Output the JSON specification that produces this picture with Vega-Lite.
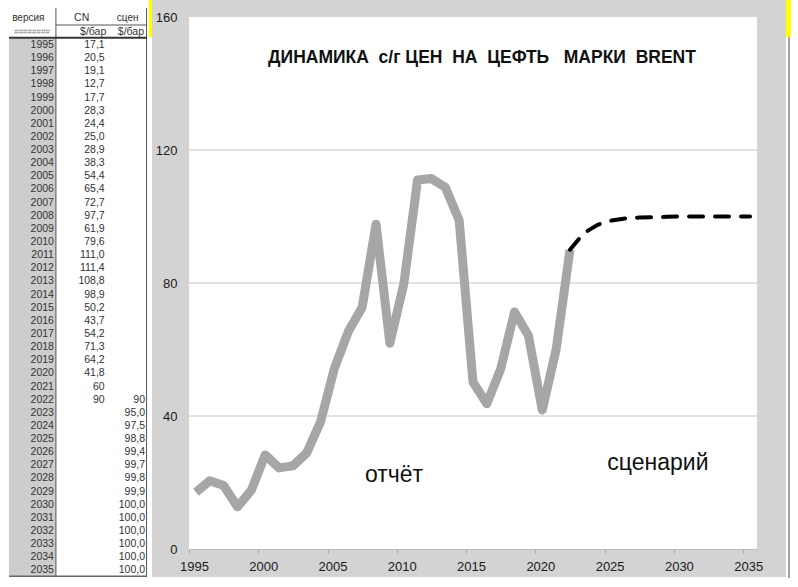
{
  "$schema": "https://vega.github.io/schema/vega-lite/v6.json",
  "padding": {"left": 8, "top": 0, "right": 0, "bottom": 0},
  "background": "white",
  "spacing": 0,
  "config": {
    "view": {"stroke": null},
    "font": "Liberation Sans",
    "locale": {"number": {"decimal": ",", "thousands": " ", "grouping": [3], "currency": ["", ""]}}
  },
  "datasets": {
    "d": [
      {"year": 1995, "cn": 17.1, "scen": null},
      {"year": 1996, "cn": 20.5, "scen": null},
      {"year": 1997, "cn": 19.1, "scen": null},
      {"year": 1998, "cn": 12.7, "scen": null},
      {"year": 1999, "cn": 17.7, "scen": null},
      {"year": 2000, "cn": 28.3, "scen": null},
      {"year": 2001, "cn": 24.4, "scen": null},
      {"year": 2002, "cn": 25.0, "scen": null},
      {"year": 2003, "cn": 28.9, "scen": null},
      {"year": 2004, "cn": 38.3, "scen": null},
      {"year": 2005, "cn": 54.4, "scen": null},
      {"year": 2006, "cn": 65.4, "scen": null},
      {"year": 2007, "cn": 72.7, "scen": null},
      {"year": 2008, "cn": 97.7, "scen": null},
      {"year": 2009, "cn": 61.9, "scen": null},
      {"year": 2010, "cn": 79.6, "scen": null},
      {"year": 2011, "cn": 111.0, "scen": null},
      {"year": 2012, "cn": 111.4, "scen": null},
      {"year": 2013, "cn": 108.8, "scen": null},
      {"year": 2014, "cn": 98.9, "scen": null},
      {"year": 2015, "cn": 50.2, "scen": null},
      {"year": 2016, "cn": 43.7, "scen": null},
      {"year": 2017, "cn": 54.2, "scen": null},
      {"year": 2018, "cn": 71.3, "scen": null},
      {"year": 2019, "cn": 64.2, "scen": null},
      {"year": 2020, "cn": 41.8, "scen": null},
      {"year": 2021, "cn": 60, "scen": null},
      {"year": 2022, "cn": 90, "scen": 90},
      {"year": 2023, "cn": null, "scen": 95.0},
      {"year": 2024, "cn": null, "scen": 97.5},
      {"year": 2025, "cn": null, "scen": 98.8},
      {"year": 2026, "cn": null, "scen": 99.4},
      {"year": 2027, "cn": null, "scen": 99.7},
      {"year": 2028, "cn": null, "scen": 99.8},
      {"year": 2029, "cn": null, "scen": 99.9},
      {"year": 2030, "cn": null, "scen": 100.0},
      {"year": 2031, "cn": null, "scen": 100.0},
      {"year": 2032, "cn": null, "scen": 100.0},
      {"year": 2033, "cn": null, "scen": 100.0},
      {"year": 2034, "cn": null, "scen": 100.0},
      {"year": 2035, "cn": null, "scen": 100.0}
    ],
    "one": [{}],
    "grid": [{"g": 40}, {"g": 80}, {"g": 120}]
  },
  "hconcat": [
    {
      "width": 138,
      "height": 560,
      "layer": [
        {
          "data": {"name": "one"},
          "mark": {"type": "rect", "color": "#cdcdcd"},
          "encoding": {
            "x": {"datum": 0, "type": "quantitative", "scale": {"domain": [0, 3], "nice": false, "zero": false}, "axis": null},
            "x2": {"datum": 1.02},
            "y": {"datum": 1994.5, "type": "quantitative", "scale": {"domain": [1992.87, 2035.5], "reverse": true, "nice": false, "zero": false}, "axis": null},
            "y2": {"datum": 2035.5}
          }
        },
        {
          "data": {"name": "one"},
          "mark": {"type": "rule", "color": "#555555", "strokeWidth": 1},
          "encoding": {"x": {"datum": 1.02}, "y": {"datum": 1992.19}, "y2": {"datum": 2035.5}}
        },
        {
          "data": {"name": "one"},
          "mark": {"type": "rule", "color": "#555555", "strokeWidth": 1},
          "encoding": {"x": {"datum": 2.99}, "y": {"datum": 1992.19}, "y2": {"datum": 2035.5}}
        },
        {
          "data": {"name": "one"},
          "mark": {"type": "rule", "color": "#555555", "strokeWidth": 1},
          "encoding": {"y": {"datum": 1993.48}, "x": {"datum": 1.02}, "x2": {"datum": 3}}
        },
        {
          "data": {"name": "one"},
          "mark": {"type": "rule", "color": "#333333", "strokeWidth": 2},
          "encoding": {"y": {"datum": 1994.45}, "x": {"datum": 0}, "x2": {"datum": 3}}
        },
        {
          "data": {"name": "one"},
          "mark": {"type": "rule", "color": "#666666", "strokeWidth": 1.5},
          "encoding": {"y": {"datum": 2035.45}, "x": {"datum": 0}, "x2": {"datum": 3}}
        },
        {
          "data": {"name": "d"},
          "mark": {"type": "text", "align": "right", "baseline": "middle", "dx": -2, "fontSize": 10.5, "color": "#333333"},
          "encoding": {"x": {"datum": 1.02}, "y": {"field": "year", "type": "quantitative"}, "text": {"field": "year", "type": "nominal"}}
        },
        {
          "data": {"name": "d"},
          "transform": [{"filter": "datum.cn != null"}],
          "mark": {"type": "text", "align": "right", "baseline": "middle", "fontSize": 10.5, "color": "#333333"},
          "encoding": {
            "x": {"datum": 2.08},
            "y": {"field": "year", "type": "quantitative"},
            "text": {"condition": {"test": "datum.year >= 2021", "field": "cn", "type": "quantitative", "format": "d"}, "field": "cn", "type": "quantitative", "format": ".1f"}
          }
        },
        {
          "data": {"name": "d"},
          "transform": [{"filter": "datum.scen != null"}],
          "mark": {"type": "text", "align": "right", "baseline": "middle", "dx": -2, "fontSize": 10.5, "color": "#333333"},
          "encoding": {
            "x": {"datum": 3},
            "y": {"field": "year", "type": "quantitative"},
            "text": {"condition": {"test": "datum.year == 2022", "field": "scen", "type": "quantitative", "format": "d"}, "field": "scen", "type": "quantitative", "format": ".1f"}
          }
        },
        {
          "data": {"name": "one"},
          "mark": {"type": "text", "align": "center", "baseline": "middle", "fontSize": 10, "color": "#333333", "text": "версия"},
          "encoding": {"x": {"datum": 0.42}, "y": {"datum": 1992.95}}
        },
        {
          "data": {"name": "one"},
          "mark": {"type": "text", "align": "center", "baseline": "middle", "fontSize": 10.5, "color": "#333333", "text": "CN"},
          "encoding": {"x": {"datum": 1.58}, "y": {"datum": 1992.95}}
        },
        {
          "data": {"name": "one"},
          "mark": {"type": "text", "align": "center", "baseline": "middle", "fontSize": 10, "color": "#333333", "text": "сцен"},
          "encoding": {"x": {"datum": 2.58}, "y": {"datum": 1992.95}}
        },
        {
          "data": {"name": "one"},
          "mark": {"type": "text", "align": "center", "baseline": "middle", "fontSize": 8, "color": "#888888", "text": "########"},
          "encoding": {"x": {"datum": 0.5}, "y": {"datum": 1994.0}}
        },
        {
          "data": {"name": "one"},
          "mark": {"type": "text", "align": "center", "baseline": "middle", "fontSize": 10.5, "color": "#333333", "text": "$/бар"},
          "encoding": {"x": {"datum": 1.83}, "y": {"datum": 1994.0}}
        },
        {
          "data": {"name": "one"},
          "mark": {"type": "text", "align": "center", "baseline": "middle", "fontSize": 10.5, "color": "#333333", "text": "$/бар"},
          "encoding": {"x": {"datum": 2.65}, "y": {"datum": 1994.0}}
        }
      ]
    },
    {
      "width": 568,
      "height": 532,
      "layer": [
        {
          "data": {"name": "one"},
          "mark": {"type": "rect", "color": "#d3d3d3"},
          "encoding": {"x": {"datum": 1991.83}, "x2": {"datum": 2037.59}, "y": {"datum": -8.42}, "y2": {"datum": 165.1}}
        },
        {
          "data": {"name": "one"},
          "mark": {"type": "rect", "color": "#ffff00"},
          "encoding": {"x": {"datum": 1991.6}, "x2": {"datum": 1991.83}, "y": {"datum": 153.98}, "y2": {"datum": 165.1}}
        },
        {
          "data": {"name": "one"},
          "mark": {"type": "rect", "color": "#ffff00"},
          "encoding": {"x": {"datum": 2037.59}, "x2": {"datum": 2037.95}, "y": {"datum": 153.98}, "y2": {"datum": 165.1}}
        },
        {
          "data": {"name": "one"},
          "mark": {"type": "rule", "color": "#444444", "strokeWidth": 1},
          "encoding": {"x": {"datum": 2037.81}, "y": {"datum": 153.98}, "y2": {"datum": -8.72}}
        },
        {
          "data": {"name": "one"},
          "mark": {"type": "rect", "color": "#ffffff"},
          "encoding": {"x": {"datum": 1994.5}, "x2": {"datum": 2035.5}, "y": {"datum": 0}, "y2": {"datum": 160}}
        },
        {
          "data": {"name": "grid"},
          "mark": {"type": "rule", "color": "#c4c4c4", "strokeWidth": 1},
          "encoding": {"y": {"field": "g", "type": "quantitative"}, "x": {"datum": 1994.5}, "x2": {"datum": 2035.5}}
        },
        {
          "data": {"name": "d"},
          "transform": [{"filter": "datum.cn != null"}],
          "mark": {"type": "line", "color": "#a6a6a6", "strokeWidth": 9, "strokeJoin": "round"},
          "encoding": {
            "x": {
              "field": "year", "type": "quantitative",
              "scale": {"domain": [1994.5, 2035.5], "nice": false, "zero": false},
              "axis": {
                "title": null, "zindex": 1, "grid": false,
                "values": [1994.5, 1999.5, 2004.5, 2009.5, 2014.5, 2019.5, 2024.5, 2029.5, 2034.5],
                "labelExpr": "round(datum.value)",
                "labelOffset": 5, "labelFlush": false, "labelOverlap": false,
                "labelFont": "Liberation Sans", "labelFontSize": 13, "labelColor": "#1a1a1a",
                "labelPadding": 7, "tickSize": 4, "tickColor": "#aaaaaa", "domainColor": "#bbbbbb"
              }
            },
            "y": {
              "field": "cn", "type": "quantitative",
              "scale": {"domain": [0, 160], "nice": false, "zero": false},
              "axis": {
                "title": null, "zindex": 1, "grid": false,
                "values": [0, 40, 80, 120, 160],
                "labelFont": "Liberation Sans", "labelFontSize": 13, "labelColor": "#1a1a1a",
                "ticks": false, "tickSize": 0, "domain": false, "labelPadding": 12
              }
            }
          }
        },
        {
          "data": {"name": "d"},
          "transform": [{"filter": "datum.scen != null"}],
          "mark": {"type": "line", "color": "#000000", "strokeWidth": 4, "strokeDash": [14, 12], "strokeCap": "round"},
          "encoding": {"x": {"field": "year", "type": "quantitative"}, "y": {"field": "scen", "type": "quantitative"}}
        },
        {
          "data": {"name": "one"},
          "mark": {"type": "text", "align": "center", "baseline": "middle", "fontSize": 17.5, "fontWeight": "bold", "color": "#111111",
                   "text": "ДИНАМИКА\u00a0\u00a0с/г ЦЕН\u00a0\u00a0НА\u00a0\u00a0ЦЕФТЬ\u00a0\u00a0\u00a0МАРКИ\u00a0\u00a0BRENT"},
          "encoding": {"x": {"datum": 2015.65}, "y": {"datum": 147.7}}
        },
        {
          "data": {"name": "one"},
          "mark": {"type": "text", "align": "center", "baseline": "middle", "fontSize": 23, "color": "#111111", "text": "отчёт"},
          "encoding": {"x": {"datum": 2009.3}, "y": {"datum": 22.26}}
        },
        {
          "data": {"name": "one"},
          "mark": {"type": "text", "align": "center", "baseline": "middle", "fontSize": 23, "color": "#111111", "text": "сценарий"},
          "encoding": {"x": {"datum": 2028.35}, "y": {"datum": 25.86}}
        }
      ]
    }
  ]
}
